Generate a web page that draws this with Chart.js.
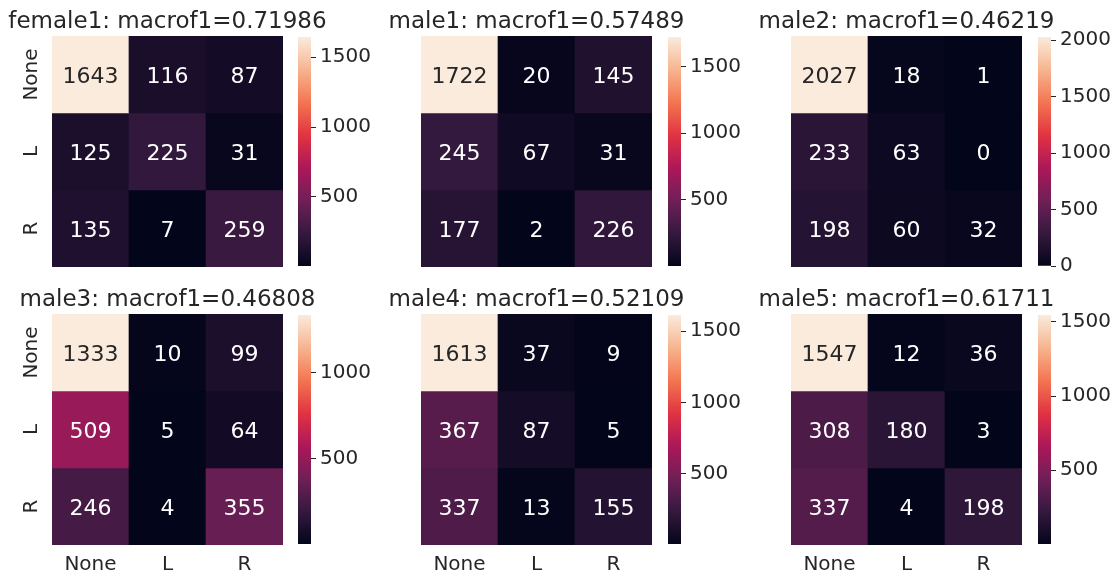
<!DOCTYPE html>
<html>
<head>
<meta charset="utf-8">
<script src="https://cdn.jsdelivr.net/npm/chart.js@4.4.1/dist/chart.umd.min.js"></script>
<style>
  html, body { margin: 0; padding: 0; background: #fff; }
  #wrap { position: relative; width: 1117px; height: 575px; overflow: hidden; }
  #wrap canvas { position: absolute; }
</style>
</head>
<body>
<div id="wrap"></div>
<script>
// class labels (rows = true, columns = predicted)
const classLabels = ['None', 'L', 'R'];

// one confusion matrix per speaker
const speakers = ['female1', 'male1', 'male2', 'male3', 'male4', 'male5'];
const macroF1 = ['0.71986', '0.57489', '0.46219', '0.46808', '0.52109', '0.61711'];

const female1 = [[1643, 116, 87], [125, 225, 31], [135, 7, 259]];
const male1 = [[1722, 20, 145], [245, 67, 31], [177, 2, 226]];
const male2 = [[2027, 18, 1], [233, 63, 0], [198, 60, 32]];
const male3 = [[1333, 10, 99], [509, 5, 64], [246, 4, 355]];
const male4 = [[1613, 37, 9], [367, 87, 5], [337, 13, 155]];
const male5 = [[1547, 12, 36], [308, 180, 3], [337, 4, 198]];
const matrices = [female1, male1, male2, male3, male4, male5];

// colorbar ticks for each panel
const cbTicks = [
  [500, 1000, 1500],
  [500, 1000, 1500],
  [0, 500, 1000, 1500, 2000],
  [500, 1000],
  [500, 1000, 1500],
  [500, 1000, 1500]
];

const FONT = "'DejaVu Sans', sans-serif";
const TEXT = '#262626';

// seaborn "rocket" colormap, piecewise linear
const rocketStops = [
  [0, [3, 5, 26]],
  [1 / 7, [53, 25, 62]],
  [2 / 7, [112, 31, 87]],
  [3 / 7, [173, 23, 89]],
  [4 / 7, [225, 51, 66]],
  [5 / 7, [243, 118, 81]],
  [6 / 7, [246, 180, 143]],
  [1, [250, 235, 221]]
];

function rocket(t) {
  t = Math.max(0, Math.min(1, t));
  for (let i = 1; i < rocketStops.length; i++) {
    const [t1, c1] = rocketStops[i];
    const [t0, c0] = rocketStops[i - 1];
    if (t <= t1) {
      const f = (t - t0) / (t1 - t0);
      return c0.map((v, k) => Math.round(v + (c1[k] - v) * f));
    }
  }
  return rocketStops[rocketStops.length - 1][1];
}
const css = c => `rgb(${c[0]},${c[1]},${c[2]})`;

function luminance(c) {
  const lin = c.map(v => {
    v /= 255;
    return v <= 0.03928 ? v / 12.92 : Math.pow((v + 0.055) / 1.055, 2.4);
  });
  return 0.2126 * lin[0] + 0.7152 * lin[1] + 0.0722 * lin[2];
}

// writes the count in the middle of each cell
const cellText = {
  id: 'cellText',
  afterDatasetsDraw(chart) {
    const ctx = chart.ctx;
    ctx.save();
    ctx.font = '22px ' + FONT;
    ctx.textAlign = 'center';
    ctx.textBaseline = 'alphabetic';
    chart.data.datasets.forEach((ds, r) => {
      chart.getDatasetMeta(r).data.forEach((bar, c) => {
        const cy = (bar.y + bar.base) / 2;
        ctx.fillStyle = luminance(ds.rgb[c]) > 0.408 ? TEXT : '#ffffff';
        ctx.fillText(String(ds.counts[c]), bar.x, cy + 8);
      });
    });
    ctx.restore();
  }
};

const wrap = document.getElementById('wrap');
function makeCanvas(left, top, w, h) {
  const cv = document.createElement('canvas');
  cv.width = w;
  cv.height = h;
  cv.style.left = left + 'px';
  cv.style.top = top + 'px';
  wrap.appendChild(cv);
  return cv;
}

const SIZE = 231;
const areaLefts = [52, 421, 791];
const cbLefts = [298, 668, 1038];
const areaTops = [36, 314];

function drawHeatmap(p) {
  const col = p % 3, row = Math.floor(p / 3);
  const counts = matrices[p];
  const flat = counts.flat();
  const vmin = Math.min(...flat), vmax = Math.max(...flat);
  const cv = makeCanvas(areaLefts[col] - 52, areaTops[row] - 36, 52 + SIZE + 52, 36 + SIZE + 30);

  const datasets = counts.map((rowCounts, r) => {
    const rgb = rowCounts.map(v => rocket((v - vmin) / (vmax - vmin)));
    return {
      label: classLabels[r],
      data: rowCounts.map(() => [r, r + 1]),
      counts: rowCounts,
      rgb: rgb,
      backgroundColor: rgb.map(css),
      grouped: false,
      categoryPercentage: 1,
      barPercentage: 1,
      borderWidth: 0,
      borderSkipped: false
    };
  });

  new Chart(cv, {
    type: 'bar',
    data: { labels: classLabels, datasets: datasets },
    options: {
      responsive: false,
      animation: false,
      devicePixelRatio: 1,
      plugins: {
        legend: { display: false },
        tooltip: { enabled: false },
        title: {
          display: true,
          text: speakers[p] + ': macrof1=' + macroF1[p],
          color: TEXT,
          font: { family: FONT, size: 23, weight: 'normal', lineHeight: 1.2 },
          padding: { top: 8.4, bottom: 0 }
        }
      },
      scales: {
        x: {
          grid: { display: false, drawTicks: false },
          border: { display: false },
          ticks: {
            display: row === 1,
            color: TEXT,
            font: { family: FONT, size: 20 },
            padding: 8,
            maxRotation: 0,
            autoSkip: false
          },
          afterFit: s => { s.height = 30; }
        },
        y: {
          min: 0,
          max: 3,
          reverse: true,
          grid: { display: false, drawTicks: false },
          border: { display: false },
          afterBuildTicks: s => { s.ticks = classLabels.map((_, i) => ({ value: i + 0.5 })); },
          ticks: {
            display: col === 0,
            color: TEXT,
            font: { family: FONT, size: 20 },
            minRotation: 90,
            maxRotation: 90,
            crossAlign: 'center',
            padding: -5.8,
            autoSkip: false,
            callback: (v, i) => classLabels[i]
          },
          afterFit: s => { s.width = 52; }
        },
        // empty right-hand axis keeps the title centred over the cells
        yr: {
          position: 'right',
          grid: { display: false, drawTicks: false },
          border: { display: false },
          ticks: { display: false },
          afterFit: s => { s.width = 52; }
        }
      }
    },
    plugins: [cellText]
  });

  // colorbar
  const cb = makeCanvas(cbLefts[col], areaTops[row] - 15, 13 + 70, SIZE + 30);
  new Chart(cb, {
    type: 'bar',
    data: {
      labels: [''],
      datasets: [{
        data: [[vmin, vmax]],
        categoryPercentage: 1,
        barPercentage: 1,
        borderWidth: 0,
        borderSkipped: false,
        backgroundColor: c => {
          const a = c.chart.chartArea;
          if (!a) return css(rocket(0.5));
          const g = c.chart.ctx.createLinearGradient(0, a.bottom, 0, a.top);
          for (let i = 0; i <= 48; i++) g.addColorStop(i / 48, css(rocket(i / 48)));
          return g;
        }
      }]
    },
    options: {
      responsive: false,
      animation: false,
      devicePixelRatio: 1,
      layout: { padding: { top: 15, bottom: 15 } },
      plugins: { legend: { display: false }, tooltip: { enabled: false } },
      scales: {
        x: { display: false },
        y: {
          position: 'right',
          min: vmin,
          max: vmax,
          grid: { drawOnChartArea: false, drawTicks: true, tickLength: 5, tickColor: TEXT, tickWidth: 1 },
          border: { display: false },
          afterBuildTicks: s => { s.ticks = cbTicks[p].map(v => ({ value: v })); },
          ticks: {
            color: TEXT,
            font: { family: FONT, size: 20 },
            padding: 4,
            autoSkip: false,
            callback: v => String(v)
          },
          afterFit: s => { s.width = 70; }
        }
      }
    }
  });
}

speakers.forEach((_, p) => drawHeatmap(p));
</script>
</body>
</html>
